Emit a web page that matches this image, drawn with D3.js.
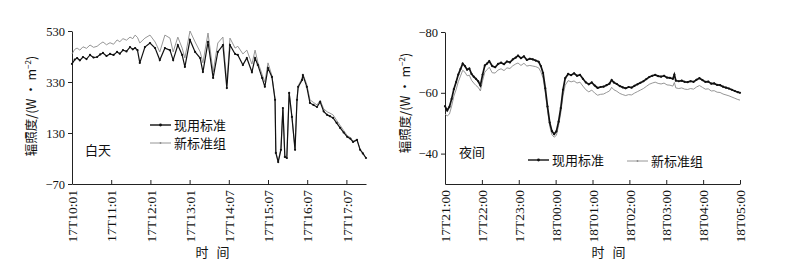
<!DOCTYPE html>
<html>
<head>
<meta charset="utf-8">
<script src="https://cdn.jsdelivr.net/npm/d3@7"></script>
<style>
  body { margin: 0; background: #fff; }
  svg text { fill: #111; }
</style>
</head>
<body>
<div id="chart"></div>
<script>
// ---- data: daytime panel (x in tick intervals from 17T10:01) ----
const dayTicks = ["17T10:01","17T11:01","17T12:01","17T13:01","17T14:07","17T15:07","17T16:07","17T17:07"];
const dayT = [0,0.07,0.13,0.20,0.28,0.37,0.46,0.55,0.64,0.72,0.79,0.88,0.97,1.06,1.15,1.22,1.30,1.39,1.48,1.55,
  1.61,1.67,1.73,1.86,1.99,2.12,2.24,2.37,2.50,2.58,2.70,
  2.81,2.88,3.01,3.14,3.27,3.34,3.47,3.60,3.72,3.85,3.95,4.03,4.16,4.23,4.36,4.46,4.59,4.67,4.74,4.85,
  4.92,5.00,5.10,5.18,5.20,5.26,5.33,5.38,5.43,5.48,5.54,5.61,5.69,5.74,5.77,5.87,5.89,5.99,6.07,6.16,6.25,
  6.33,6.42,6.51,6.58,6.66,6.75,6.84,6.93,7.02,7.10,7.17,7.27,7.35,7.42,7.50];
const dayOld = [401,418,424,415,428,420,436,426,428,438,444,432,440,436,448,441,455,450,467,458,
  463,455,405,467,483,463,416,463,455,416,475,
  436,389,495,448,424,369,487,346,448,475,306,475,440,436,397,424,369,424,397,346,
  311,385,350,260,52,16,64,228,36,32,287,193,64,260,311,338,357,311,248,240,232,
  252,215,201,196,189,170,150,132,115,108,95,103,64,50,32];
const dayNew = [440,458,463,455,468,462,475,466,470,480,487,476,484,478,495,488,500,494,506,500,
  514,505,483,502,514,487,448,514,502,448,506,
  463,424,530,487,448,405,522,369,483,506,325,502,463,470,440,455,400,455,408,360,
  330,405,355,265,55,20,70,230,40,35,290,195,66,265,315,345,362,320,260,250,240,
  258,225,213,208,201,180,160,140,120,112,98,105,66,52,32];
const dayYTicks = [-70,130,330,530];

// ---- data: night panel (x in hours from 17T21:00) ----
const nightTicks = ["17T21:00","17T22:00","17T23:00","18T00:00","18T01:00","18T02:00","18T03:00","18T04:00","18T05:00"];
const nightT = [0,0.06,0.12,0.18,0.24,0.30,0.36,0.42,0.48,0.54,0.60,0.66,0.72,0.78,0.84,0.90,0.96,1.02,1.08,1.14,
  1.20,1.28,1.36,1.44,1.52,1.60,1.68,1.76,1.84,1.92,1.98,2.06,2.14,2.22,2.30,2.38,2.46,2.54,2.60,2.66,
  2.72,2.78,2.84,2.90,2.96,3.02,3.08,3.14,3.20,3.26,3.34,3.42,3.50,3.58,3.66,3.74,3.82,3.90,3.98,4.06,
  4.14,4.22,4.30,4.38,4.46,4.52,4.58,4.66,4.74,4.82,4.90,4.98,5.06,5.14,5.22,5.30,5.38,5.46,5.54,5.62,
  5.70,5.78,5.86,5.94,6.02,6.10,6.18,6.22,6.26,6.34,6.42,6.50,6.58,6.66,6.74,6.82,6.90,6.98,7.06,7.14,
  7.22,7.30,7.38,7.46,7.54,7.62,7.70,7.78,7.86,7.94,8.00];
const nightOld = [-55.6,-54.2,-55.4,-58.0,-61.2,-63.5,-66.0,-67.8,-69.6,-68.8,-67.6,-68.0,-66.2,-65.3,-64.6,-63.8,-62.4,-66.0,-69.0,-69.6,
  -70.4,-68.8,-68.4,-69.5,-69.9,-69.4,-70.3,-70.0,-71.0,-71.6,-72.2,-71.4,-72.0,-70.8,-71.2,-71.0,-70.6,-70.2,-68.8,-66.5,
  -61.5,-55.5,-50.2,-47.4,-46.4,-47.3,-50.5,-55.0,-61.0,-64.8,-66.2,-65.8,-66.4,-65.6,-65.9,-64.6,-63.4,-62.8,-63.4,-62.4,
  -61.6,-61.9,-62.0,-62.5,-63.0,-64.2,-63.4,-62.9,-62.2,-61.8,-61.5,-61.9,-61.7,-62.3,-62.8,-63.3,-63.8,-64.5,-65.2,-65.6,
  -65.9,-65.5,-65.3,-65.6,-65.0,-64.9,-64.6,-66.0,-64.0,-63.8,-64.0,-63.6,-63.5,-63.8,-63.6,-64.3,-64.8,-64.2,-63.6,-63.7,
  -63.0,-63.1,-62.6,-62.5,-62.0,-61.7,-61.4,-61.0,-60.6,-60.2,-60.0];
const nightNew = [-53.0,-52.4,-53.0,-55.6,-58.9,-61.0,-63.6,-65.5,-67.4,-66.8,-65.6,-65.8,-64.1,-63.2,-62.4,-61.8,-60.6,-64.0,-66.8,-67.6,
  -68.4,-66.6,-66.5,-67.5,-67.9,-67.3,-68.2,-68.0,-68.9,-69.5,-69.8,-69.0,-69.7,-68.8,-69.0,-68.8,-68.6,-68.2,-66.9,-64.8,
  -60.0,-54.2,-49.0,-46.2,-45.4,-46.0,-49.2,-53.4,-59.0,-62.5,-64.0,-63.6,-63.9,-63.2,-63.5,-62.2,-61.0,-60.3,-60.9,-59.9,
  -59.2,-59.5,-59.6,-60.1,-60.6,-61.8,-61.0,-60.5,-59.8,-59.4,-59.1,-59.4,-59.3,-59.9,-60.4,-60.9,-61.4,-62.1,-62.8,-63.2,
  -63.5,-63.1,-62.9,-63.2,-62.6,-62.5,-62.2,-63.4,-61.6,-61.4,-61.6,-61.2,-61.1,-61.4,-61.2,-61.9,-62.4,-61.8,-61.2,-61.3,
  -60.6,-60.7,-60.2,-60.1,-59.6,-59.3,-59.0,-58.6,-58.2,-57.8,-57.6];
const nightYTicks = [-80,-60,-40];

const seriesNames = ["现用标准", "新标准组"];

const W = 796, H = 267;
const serif = "'Liberation Serif','DejaVu Serif',serif";
const cjk = "'Noto Sans CJK SC','Noto Sans',sans-serif";

const svg = d3.select("#chart").append("svg")
  .attr("width", W)
  .attr("height", H);
svg.append("rect").attr("width", W).attr("height", H).attr("fill", "#fff");

const fmt = d => d < 0 ? "\u2212" + Math.abs(d) : String(d);

function panel(o) {
  const g = svg.append("g");
  const x = d3.scaleLinear().domain(o.xDomain).range([o.left, o.right]);
  const y = d3.scaleLinear().domain(o.yDomain).range([o.bottom, o.top]);

  // y axis, ticks outside
  const ya = g.append("g")
    .attr("transform", `translate(${o.left},0)`)
    .call(d3.axisLeft(y).tickValues(o.yTicks).tickSize(4).tickSizeOuter(0).tickPadding(3).tickFormat(fmt));
  ya.selectAll("text").attr("font-family", serif).attr("font-size", 12.5).attr("fill", "#111");

  // x axis, ticks pointing inward, rotated labels
  const xa = g.append("g")
    .attr("transform", `translate(0,${o.bottom})`)
    .call(d3.axisBottom(x).tickValues(d3.range(o.xLabels.length)).tickSizeInner(-4).tickSizeOuter(0)
      .tickFormat((d, i) => o.xLabels[i]));
  xa.selectAll("text")
    .attr("font-family", serif).attr("font-size", 13.5).attr("fill", "#111")
    .attr("transform", "rotate(-90)")
    .attr("text-anchor", "end")
    .attr("x", -6).attr("y", 0).attr("dy", "0.35em");
  g.selectAll(".domain, .tick line").attr("stroke", "#222").attr("stroke-width", 1);

  const line = arr => d3.line()
    .x((d, i) => x(o.t[i]))
    .y(d => y(d))(arr);

  g.append("path").attr("d", line(o.neu))
    .attr("fill", "none").attr("stroke", "#8a8a8a").attr("stroke-width", 0.9);
  g.append("path").attr("d", line(o.old))
    .attr("fill", "none").attr("stroke", "#111").attr("stroke-width", o.blackW);
  g.selectAll("circle.pt").data(o.old).enter().append("circle")
    .attr("class", "pt")
    .attr("cx", (d, i) => x(o.t[i])).attr("cy", d => y(d))
    .attr("r", 1.1).attr("fill", "#111");

  // axis titles: 时 间 written as two spaced glyphs
  ["时", "间"].forEach((ch, k) => {
    g.append("text")
      .attr("x", o.xTitle[0] + k * 21).attr("y", o.xTitle[1])
      .attr("text-anchor", "middle")
      .attr("font-family", cjk).attr("font-size", 13)
      .text(ch);
  });
  const yt = g.append("text")
    .attr("transform", `translate(${o.yTitle[0]},${o.yTitle[1]}) rotate(-90)`)
    .attr("text-anchor", "middle")
    .attr("font-family", cjk).attr("font-size", 12.5);
  yt.append("tspan").text("辐照度/(W · m");
  yt.append("tspan").attr("font-size", 8).attr("dy", -5).text("\u22122");
  yt.append("tspan").attr("dy", 5).text(")");

  // panel label
  g.append("text")
    .attr("x", o.tag[0]).attr("y", o.tag[1])
    .attr("font-family", cjk).attr("font-size", 13)
    .text(o.tagText);

  // legend
  o.legend.forEach((p, k) => {
    g.append("line")
      .attr("x1", p[0]).attr("x2", p[0] + 21).attr("y1", p[1]).attr("y2", p[1])
      .attr("stroke", k === 0 ? "#111" : "#8a8a8a")
      .attr("stroke-width", k === 0 ? 1.4 : 0.9);
    g.append("circle").attr("cx", p[0] + 10.5).attr("cy", p[1]).attr("r", k === 0 ? 1.4 : 0.9)
      .attr("fill", k === 0 ? "#111" : "#8a8a8a");
    g.append("text")
      .attr("x", p[0] + 24).attr("y", p[1] + 5)
      .attr("font-family", cjk).attr("font-size", 13)
      .text(seriesNames[k]);
  });
}

panel({
  left: 72, right: 366, top: 31, bottom: 184,
  xDomain: [0, 7.5], yDomain: [-70, 530],
  xLabels: dayTicks, yTicks: dayYTicks,
  t: dayT, old: dayOld, neu: dayNew, blackW: 1.2,
  xTitle: [202, 257], yTitle: [36, 106],
  tag: [85, 155], tagText: "白天",
  legend: [[150, 125], [150, 143]]
});

panel({
  left: 445, right: 740, top: 32, bottom: 184,
  xDomain: [0, 8], yDomain: [-30, -80],
  xLabels: nightTicks, yTicks: nightYTicks,
  t: nightT, old: nightOld, neu: nightNew, blackW: 1.7,
  xTitle: [598, 257], yTitle: [410, 103],
  tag: [459, 157], tagText: "夜间",
  legend: [[528, 160], [627, 161]]
});
</script>
</body>
</html>
